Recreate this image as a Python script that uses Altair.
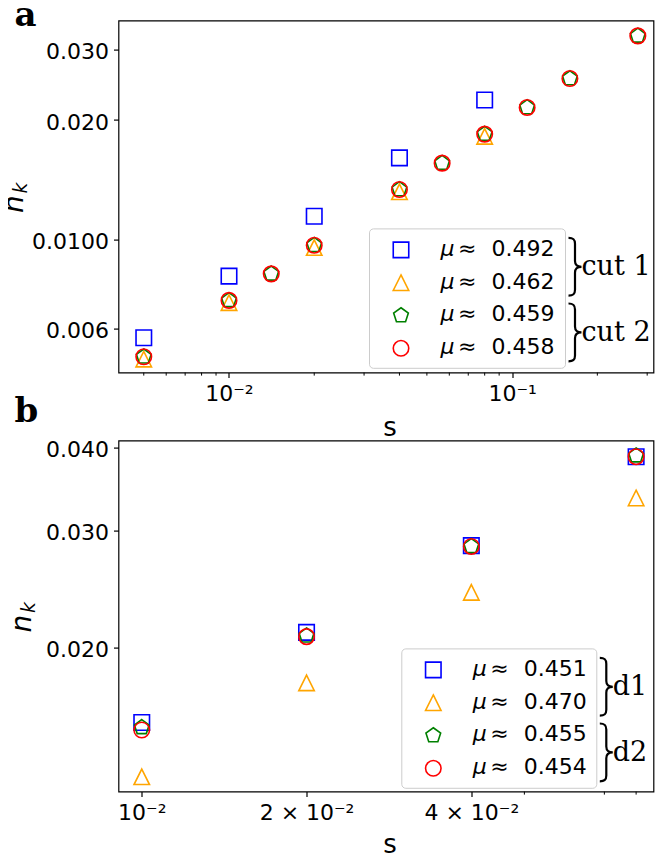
import altair as alt
import pandas as pd

# ---------------- data ----------------
# panel a
a_x_cut1 = [0.005, 0.01, 0.02, 0.04, 0.08]
a_y_sq = [0.00568, 0.00811, 0.01147, 0.01607, 0.02245]
a_y_tri = [0.00502, 0.00696, 0.00957, 0.01321, 0.01820]
a_x_cut2 = [0.005, 0.01, 0.0141, 0.02, 0.04, 0.0566, 0.08, 0.113, 0.16, 0.278]
a_y_pent = [0.00509, 0.00705, 0.00822, 0.00970, 0.01339, 0.01559, 0.01844, 0.02151, 0.02543, 0.03253]
a_y_circ = [0.00509, 0.00705, 0.00822, 0.00970, 0.01339, 0.01559, 0.01844, 0.02151, 0.02543, 0.03253]
a_mu = ["0.492", "0.462", "0.459", "0.458"]
a_groups = ["cut 1", "cut 2"]

# panel b
b_x = [0.01, 0.02, 0.04, 0.08]
b_y_sq = [0.01541, 0.02107, 0.02848, 0.03879]
b_y_tri = [0.01276, 0.01768, 0.02421, 0.03361]
b_y_pent = [0.01515, 0.02083, 0.02841, 0.03893]
b_y_circ = [0.01501, 0.02076, 0.02840, 0.03879]
b_mu = ["0.451", "0.470", "0.455", "0.454"]
b_groups = ["d1", "d2"]

# ticks
a_xticks = [0.01, 0.1]
a_xticklabels = ["10⁻²", "10⁻¹"]
a_xminor = [0.005, 0.006, 0.007, 0.008, 0.009, 0.02, 0.03, 0.04, 0.05, 0.06,
            0.07, 0.08, 0.09, 0.2, 0.3]
a_yticks = [0.006, 0.01, 0.02, 0.03]
a_yticklabels = ["0.006", "0.0100", "0.020", "0.030"]

b_xticks = [0.01, 0.02, 0.04]
b_xticklabels = ["10⁻²", "2 × 10⁻²", "4 × 10⁻²"]
b_xminor = [0.05, 0.07, 0.08]
b_yticks = [0.02, 0.03, 0.04]
b_yticklabels = ["0.020", "0.030", "0.040"]

series_colors = ["#0000ff", "#ffa500", "#008000", "#ff0000"]

# ---------------- styles ----------------
SQUARE = "M-1,-1L1,-1L1,1L-1,1Z"
TRIANGLE = "M0,-1L1,1L-1,1Z"
PENTAGON = "M0,-1L0.951,-0.309L0.588,0.809L-0.588,0.809L-0.951,-0.309Z"
CIRCLE = "circle"
SHAPES = [SQUARE, TRIANGLE, PENTAGON, CIRCLE]
BRACE = ("M-0.22,-0.98C-0.05,-0.98 0,-0.92 0,-0.78L0,-0.2"
         "C0,-0.06 0.08,0 0.22,0C0.08,0 0,0.06 0,0.2L0,0.78"
         "C0,0.92 -0.05,0.98 -0.22,0.98")
MSIZE = 240
SANS = "DejaVu Sans"
SERIF = "DejaVu Serif"


def label_expr(vals, labs):
    s = ""
    for v, l in zip(vals, labs):
        s += f"abs(datum.value - {v}) < {v * 1e-6} ? '{l}' : "
    return s + "''"


def one():
    return pd.DataFrame({"d": [0]})


def panel(W, H, xdom, ydom, data, xticks, xlabels, xminor, yticks, ylabels,
          mus, groups, leg, ntitle_x, xtitle_dy, extra_texts):
    xs = alt.Scale(type="log", domain=xdom, nice=False, zero=False)
    ys = alt.Scale(type="log", domain=ydom, nice=False, zero=False)
    xaxis = alt.Axis(values=xticks, labelExpr=label_expr(xticks, xlabels),
                     labelPadding=6, title=None)
    yaxis = alt.Axis(values=yticks, labelExpr=label_expr(yticks, ylabels),
                     labelPadding=5, labelOffset=2, title=None)
    layers = []
    for (xv, yv), shape, color in zip(data, SHAPES, series_colors):
        df = pd.DataFrame({"s": xv, "n": yv})
        layers.append(
            alt.Chart(df).mark_point(filled=False, opacity=1, strokeWidth=1.6,
                                     size=MSIZE, shape=shape, color=color)
            .encode(x=alt.X("s:Q", scale=xs, axis=xaxis),
                    y=alt.Y("n:Q", scale=ys, axis=yaxis))
        )
    # minor ticks
    layers.append(
        alt.Chart(pd.DataFrame({"s": xminor})).mark_rule(color="black", strokeWidth=1.0)
        .encode(x=alt.X("s:Q", scale=xs, axis=xaxis), y=alt.value(H), y2=alt.value(H + 3))
    )
    # legend box
    L, T, R, B = leg
    layers.append(
        alt.Chart(one()).mark_rect(fill="white", fillOpacity=0.8, stroke="#cccccc",
                                   strokeWidth=1, cornerRadius=4)
        .encode(x=alt.value(L), x2=alt.value(R), y=alt.value(T), y2=alt.value(B))
    )
    rows = [21, 53.8, 86.6, 119.4]
    for i, (shape, color, mu) in enumerate(zip(SHAPES, series_colors, mus)):
        cy = T + rows[i]
        layers.append(
            alt.Chart(one()).mark_point(filled=False, opacity=1, strokeWidth=1.6,
                                        size=MSIZE, shape=shape, color=color)
            .encode(x=alt.value(L + 31.5), y=alt.value(cy))
        )
        layers.append(
            alt.Chart(one()).mark_text(text="μ", font=SANS, fontStyle="italic",
                                       fontSize=22, align="left", baseline="alphabetic",
                                       color="black")
            .encode(x=alt.value(L + 71), y=alt.value(cy + 6))
        )
        layers.append(
            alt.Chart(one()).mark_text(text="≈", font=SANS, fontSize=22, align="left",
                                       baseline="alphabetic", color="black")
            .encode(x=alt.value(L + 88.5), y=alt.value(cy + 6))
        )
        layers.append(
            alt.Chart(one()).mark_text(text=mu, font=SANS, fontSize=22, align="left",
                                       baseline="alphabetic", color="black")
            .encode(x=alt.value(L + 122), y=alt.value(cy + 6))
        )
    for j, g in enumerate(groups):
        cy = T + (rows[2 * j] + rows[2 * j + 1]) / 2 + 0.5
        layers.append(
            alt.Chart(one()).mark_point(filled=False, opacity=1, strokeWidth=2.2,
                                        size=59 * 59, shape=BRACE, color="black")
            .encode(x=alt.value(R + 9.5), y=alt.value(cy))
        )
        layers.append(
            alt.Chart(one()).mark_text(text=g, font=SERIF, fontSize=27, align="left",
                                       baseline="alphabetic", color="black")
            .encode(x=alt.value(R + 16), y=alt.value(cy + 8.5))
        )
    # axis titles
    layers.append(
        alt.Chart(one()).mark_text(text="s", font=SANS, fontSize=26, align="center",
                                   baseline="alphabetic", color="black")
        .encode(x=alt.value(W / 2 + 4), y=alt.value(H + xtitle_dy))
    )
    layers.append(
        alt.Chart(one()).mark_text(text="n", font=SANS, fontStyle="italic", fontSize=28,
                                   angle=270, align="center", baseline="alphabetic",
                                   color="black")
        .encode(x=alt.value(ntitle_x), y=alt.value(H / 2 + 7.5))
    )
    layers.append(
        alt.Chart(one()).mark_text(text="k", font=SANS, fontStyle="italic", fontSize=19,
                                   angle=270, align="center", baseline="alphabetic",
                                   color="black")
        .encode(x=alt.value(ntitle_x + 3.5), y=alt.value(H / 2 - 8.5))
    )
    for txt, tx, ty in extra_texts:
        layers.append(
            alt.Chart(one()).mark_text(text=txt, font=SERIF, fontWeight="bold",
                                       fontSize=34, align="left", baseline="alphabetic",
                                       color="black")
            .encode(x=alt.value(tx), y=alt.value(ty))
        )
    return alt.layer(*layers).properties(width=W, height=H)


pa = panel(535, 352, [0.004071, 0.3158], [0.004644, 0.03554],
           [(a_x_cut1, a_y_sq), (a_x_cut1, a_y_tri), (a_x_cut2, a_y_pent), (a_x_cut2, a_y_circ)],
           a_xticks, a_xticklabels, a_xminor, a_yticks, a_yticklabels,
           a_mu, a_groups, (251, 208.3, 447, 347.7), -95.5, 63,
           [("a", -104, 5.6), ("b", -104, 401)])

pb = panel(535, 351, [0.009068, 0.08607], [0.01212, 0.04102],
           [(b_x, b_y_sq), (b_x, b_y_tri), (b_x, b_y_pent), (b_x, b_y_circ)],
           b_xticks, b_xticklabels, b_xminor, b_yticks, b_yticklabels,
           b_mu, b_groups, (283.3, 208.3, 478.3, 347.7), -87.4, 61, [])

chart = (
    alt.vconcat(pa, pb, spacing=68, bounds="flush")
    .properties(padding={"left": -8.5, "top": -9.4, "right": 0, "bottom": 0})
    .configure(background="white")
    .configure_view(stroke="black", strokeWidth=1.2)
    .configure_axis(labelFont=SANS, labelFontSize=22, labelColor="black",
                    tickSize=5, tickWidth=1.2, tickColor="black",
                    labelOverlap=False, labelFlush=False, labelBound=False,
                    domain=False, grid=False)
)

chart.save("out.html", embed_options={"renderer": "svg", "actions": False})
